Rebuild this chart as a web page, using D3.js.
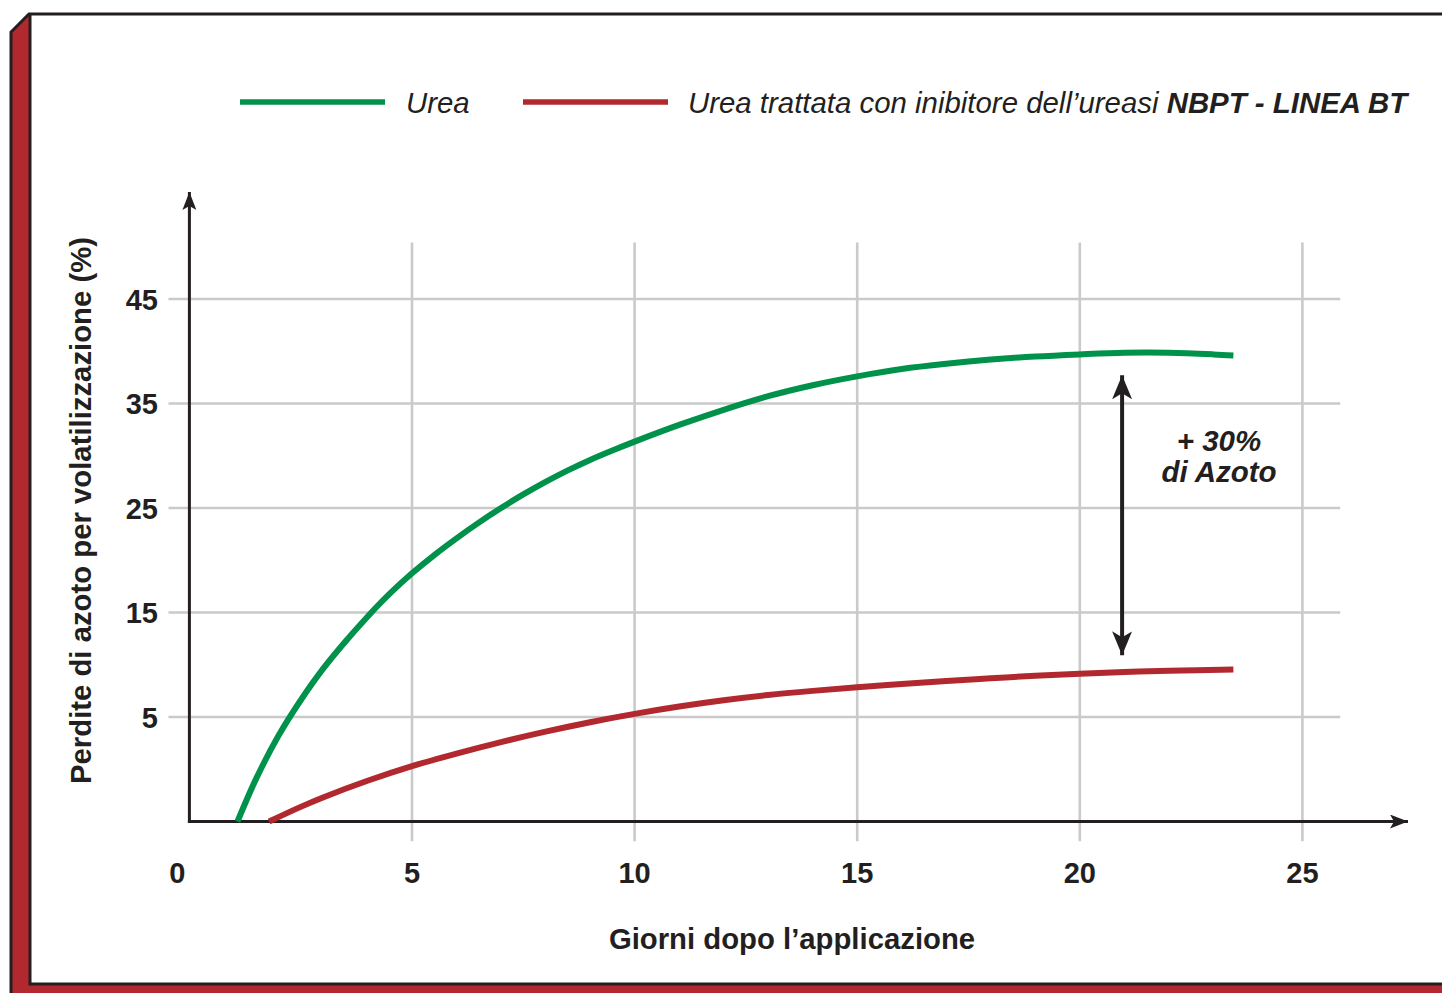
<!DOCTYPE html>
<html><head><meta charset="utf-8">
<script src="https://cdn.jsdelivr.net/npm/d3@7"></script>
<style>
html,body{margin:0;padding:0;background:#fff;}
svg{display:block;font-family:"Liberation Sans",Arial,Helvetica,sans-serif;}
</style></head>
<body>
<svg id="c" width="1442" height="993"></svg>
<script>
// ---- data ----
const xTicks = [0, 5, 10, 15, 20, 25];
const yTicks = [5, 15, 25, 35, 45];
const ureaDays = [1.08, 1.5, 2.0, 2.5, 3.0, 3.5, 4.0, 4.5, 5.0, 5.5, 6.0, 6.5, 7.0, 7.5, 8.0, 8.5, 9.0, 9.5, 10, 11, 12, 13, 14, 15, 16, 17, 18, 19, 20, 21, 22, 23, 23.45];
const ureaLoss = [-5, -0.9, 3.2, 6.6, 9.6, 12.2, 14.6, 16.8, 18.75, 20.5, 22.1, 23.6, 25.0, 26.3, 27.5, 28.6, 29.6, 30.5, 31.35, 32.95, 34.4, 35.7, 36.75, 37.6, 38.3, 38.8, 39.2, 39.5, 39.7, 39.85, 39.85, 39.7, 39.6];
const nbptDays = [1.79, 2.5, 3, 4, 5, 6, 7, 8, 9, 10, 11, 12, 13, 14, 15, 16, 17, 18, 19, 20, 21, 22, 23.45];
const nbptLoss = [-5, -3.6, -2.7, -1.1, 0.3, 1.5, 2.6, 3.6, 4.5, 5.3, 6.0, 6.6, 7.1, 7.5, 7.85, 8.15, 8.45, 8.7, 8.95, 9.15, 9.3, 9.42, 9.55];
const seriesNames = ["Urea", "Urea trattata con inibitore dell\u2019ureasi ", "NBPT - LINEA BT"];
const annotDay = 20.95;
const annotRange = [37.7, 10.9];
const annotText = ["+ 30%", "di Azoto"];
const xTitle = "Giorni dopo l\u2019applicazione";
const yTitle = "Perdite di azoto per volatilizzazione (%)";

// ---- styles ----
const GREEN = "#00924a", RED = "#b2282f", INK = "#231f20", GRID = "#cacaca";
const svg = d3.select("#c");

// frame
svg.append("path").attr("d","M11,32 L29,14 L30,14 L30,984 L1442,984 L1442,993 L11,993 Z").attr("fill", RED);
svg.append("path").attr("d","M11,993 L11,32 L29,14 L1442,14").attr("fill","none").attr("stroke",INK).attr("stroke-width",3);
svg.append("path").attr("d","M30,14 L30,984 L1442,984").attr("fill","none").attr("stroke",INK).attr("stroke-width",3);

// scales
const x = d3.scaleLinear().domain([0, 25]).range([189.4, 1302.4]);
const y = d3.scaleLinear().domain([-5, 45]).range([821.5, 299]);

// grid
const g = svg.append("g");
g.selectAll(".vg").data(xTicks.slice(1)).join("line")
  .attr("x1", d=>x(d)).attr("x2", d=>x(d)).attr("y1", y(50.4)).attr("y2", y(-6.9))
  .attr("stroke", GRID).attr("stroke-width", 2.6);
g.selectAll(".hg").data(yTicks).join("line")
  .attr("x1", x(-0.47)).attr("x2", x(25.85)).attr("y1", d=>y(d)).attr("y2", d=>y(d))
  .attr("stroke", GRID).attr("stroke-width", 2.6);

// markers
const defs = svg.append("defs");
defs.append("marker").attr("id","ah").attr("viewBox","0 0 18 14").attr("refX",18).attr("refY",7)
  .attr("markerWidth",18).attr("markerHeight",14).attr("markerUnits","userSpaceOnUse").attr("orient","auto")
  .append("path").attr("d","M0,0 L18,7 L0,14 L4,7 Z").attr("fill",INK);
defs.append("marker").attr("id","ah3").attr("viewBox","0 0 24 20").attr("refX",24).attr("refY",10)
  .attr("markerWidth",24).attr("markerHeight",20).attr("markerUnits","userSpaceOnUse").attr("orient","auto-start-reverse")
  .append("path").attr("d","M0,0 L24,10 L0,20 L6,10 Z").attr("fill",INK);

// axes with arrows
svg.append("line").attr("x1", x(0)).attr("x2", x(0)).attr("y1", y(-5)+1.5).attr("y2", 192)
  .attr("stroke", INK).attr("stroke-width", 3).attr("marker-end","url(#ah)");
svg.append("line").attr("x1", x(0)-1.5).attr("x2", 1408).attr("y1", y(-5)).attr("y2", y(-5))
  .attr("stroke", INK).attr("stroke-width", 3).attr("marker-end","url(#ah)");

// tick labels
svg.selectAll(".yt").data(yTicks).join("text")
  .attr("x", 158).attr("y", d=>y(d)+10.5).attr("text-anchor","end")
  .attr("font-size", 29).attr("font-weight","bold").attr("fill", INK).text(d=>d);
svg.selectAll(".xt").data(xTicks).join("text")
  .attr("x", d=> d===0 ? x(d)-12 : x(d)).attr("y", 882.5).attr("text-anchor","middle")
  .attr("font-size", 29).attr("font-weight","bold").attr("fill", INK).text(d=>d);

// titles
svg.append("text").attr("x", 792).attr("y", 948.5).attr("text-anchor","middle")
  .attr("font-size", 29.3).attr("font-weight","bold").attr("fill", INK).text(xTitle);
svg.append("text").attr("transform","translate(90.5,510.5) rotate(-90)").attr("text-anchor","middle")
  .attr("font-size", 29.3).attr("font-weight","bold").attr("fill", INK).text(yTitle);

// curves
const line = d3.line().x(d=>x(d[0])).y(d=>y(d[1])).curve(d3.curveCatmullRom.alpha(0.5));
svg.append("path").datum(ureaDays.map((d,i)=>[d, ureaLoss[i]])).attr("d", line)
  .attr("fill","none").attr("stroke", GREEN).attr("stroke-width", 6);
svg.append("path").datum(nbptDays.map((d,i)=>[d, nbptLoss[i]])).attr("d", line)
  .attr("fill","none").attr("stroke", RED).attr("stroke-width", 6);

// annotation arrow
svg.append("line").attr("x1", x(annotDay)).attr("x2", x(annotDay)).attr("y1", y(annotRange[0])).attr("y2", y(annotRange[1]))
  .attr("stroke", INK).attr("stroke-width", 4).attr("marker-start","url(#ah3)").attr("marker-end","url(#ah3)");
svg.selectAll(".an").data(annotText).join("text")
  .attr("x", 1219).attr("y", (d,i)=>450.5 + i*31).attr("text-anchor","middle")
  .attr("font-size", 29.5).attr("font-weight","bold").attr("font-style","italic").attr("fill", INK).text(d=>d);

// legend
svg.append("line").attr("x1",240).attr("x2",385).attr("y1",102).attr("y2",102).attr("stroke",GREEN).attr("stroke-width",5.5);
svg.append("text").attr("x",406).attr("y",112.5).attr("font-size",29.4).attr("font-style","italic").attr("fill",INK).text(seriesNames[0]);
svg.append("line").attr("x1",523).attr("x2",668).attr("y1",102).attr("y2",102).attr("stroke",RED).attr("stroke-width",5.5);
const lt = svg.append("text").attr("x",688).attr("y",112.5).attr("font-size",29.4).attr("font-style","italic").attr("fill",INK);
lt.append("tspan").text(seriesNames[1]);
lt.append("tspan").attr("font-weight","bold").text(seriesNames[2]);
</script>
</body></html>
